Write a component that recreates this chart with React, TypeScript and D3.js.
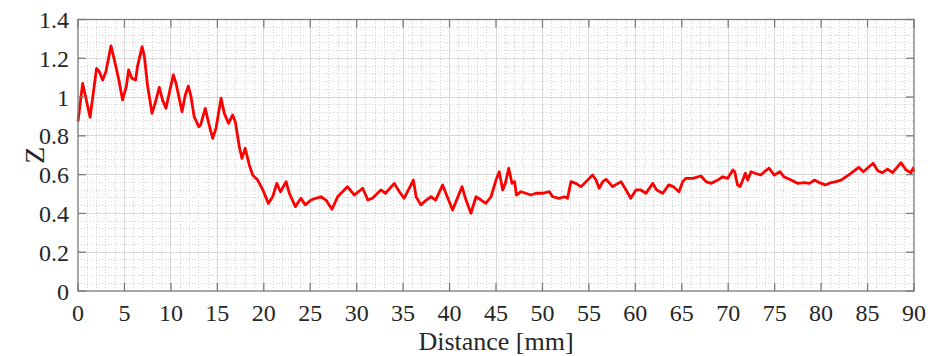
import React, { useEffect, useRef } from "react";
import * as d3 from "d3";

// Measured profile: distance along the track (mm) and surface height Z
const distanceMm = [
  0, 0.5, 1.3, 2.0, 2.3, 2.65, 3.0, 3.55, 4.0, 4.4, 4.8, 5.2, 5.45, 5.8, 6.2, 6.4, 6.9, 7.15, 7.5, 7.97,
  8.4, 8.75, 9.1, 9.47, 9.9, 10.26, 10.55, 11.2, 11.55, 11.88, 12.17, 12.5, 13.0, 13.2, 13.7, 14.07, 14.5,
  14.86, 15.4, 15.75, 16.2, 16.65, 16.93, 17.37, 17.65, 18.0, 18.44, 18.8, 19.35, 19.9, 20.5, 20.96, 21.4,
  21.8, 22.4, 22.75, 23.4, 24.0, 24.47, 25.08, 25.6, 26.16, 26.7, 27.34, 27.95, 29.0, 29.75, 30.2, 30.65,
  31.2, 31.7, 32.6, 33.1, 34.05, 34.6, 35.1, 35.67, 36.1, 36.4, 36.9, 37.5, 38.0, 38.5, 39.26, 39.6, 40.33,
  40.9, 41.34, 41.77, 42.3, 42.85, 43.4, 43.9, 44.46, 45.0, 45.35, 45.72, 46.0, 46.37, 46.72, 47.0, 47.2,
  47.7, 48.2, 48.77, 49.3, 50.0, 50.74, 51.1, 51.8, 52.35, 52.7, 53.07, 53.6, 54.15, 54.7, 55.4, 55.77,
  56.1, 56.5, 56.84, 57.56, 58.46, 59.0, 59.5, 60.07, 60.6, 61.15, 61.87, 62.3, 62.95, 63.6, 64.1, 64.7,
  65.1, 65.45, 66.17, 67.07, 67.6, 68.15, 68.87, 69.4, 69.94, 70.5, 70.7, 71.0, 71.27, 71.5, 71.84, 72.1,
  72.45, 72.9, 73.5, 73.9, 74.4, 74.96, 75.57, 76.0, 76.76, 77.5, 78.2, 78.75, 79.27, 79.8, 80.45, 81.06,
  81.6, 82.14, 82.68, 83.2, 84.05, 84.54, 85.6, 86.1, 86.6, 87.15, 87.7, 88.6, 89.14, 89.67, 89.9, 90,
];

const zValues = [
  0.873, 1.071, 0.896, 1.148, 1.131, 1.088, 1.131, 1.264, 1.174, 1.088, 0.985, 1.054, 1.14, 1.097, 1.088,
  1.157, 1.26, 1.208, 1.054, 0.916, 0.985, 1.05, 0.985, 0.942, 1.037, 1.114, 1.071, 0.925, 1.011, 1.057,
  1.002, 0.899, 0.847, 0.856, 0.942, 0.865, 0.787, 0.84, 0.994, 0.916, 0.865, 0.908, 0.873, 0.744, 0.684,
  0.736, 0.65, 0.598, 0.572, 0.521, 0.452, 0.486, 0.555, 0.512, 0.564, 0.504, 0.435, 0.478, 0.444, 0.469,
  0.478, 0.486, 0.469, 0.421, 0.486, 0.538, 0.495, 0.512, 0.53, 0.469, 0.478, 0.521, 0.504, 0.555, 0.512,
  0.478, 0.53, 0.572, 0.486, 0.444, 0.469, 0.486, 0.469, 0.547, 0.504, 0.418, 0.486, 0.538, 0.469, 0.401,
  0.486, 0.469, 0.452, 0.486, 0.572, 0.615, 0.521, 0.555, 0.633, 0.555, 0.564, 0.495, 0.512, 0.504, 0.495,
  0.504, 0.504, 0.512, 0.486, 0.478, 0.486, 0.478, 0.564, 0.555, 0.538, 0.564, 0.598, 0.572, 0.53, 0.564,
  0.576, 0.538, 0.564, 0.521, 0.478, 0.521, 0.521, 0.504, 0.555, 0.521, 0.504, 0.547, 0.538, 0.512, 0.564,
  0.581, 0.581, 0.593, 0.564, 0.555, 0.572, 0.589, 0.581, 0.624, 0.615, 0.547, 0.538, 0.564, 0.607, 0.572,
  0.615, 0.607, 0.598, 0.615, 0.633, 0.598, 0.615, 0.589, 0.572, 0.555, 0.559, 0.555, 0.572, 0.559, 0.547,
  0.559, 0.564, 0.572, 0.589, 0.607, 0.638, 0.615, 0.659, 0.62, 0.61, 0.628, 0.61, 0.662, 0.624, 0.61,
  0.633, 0.615,
];

const xTicks = [0, 5, 10, 15, 20, 25, 30, 35, 40, 45, 50, 55, 60, 65, 70, 75, 80, 85, 90];
const yTicks = [0, 0.2, 0.4, 0.6, 0.8, 1, 1.2, 1.4];

const W = 928;
const H = 356;
const M = { left: 78, right: 14, top: 19.5, bottom: 65 };
const FONT = "'Liberation Serif', 'Times New Roman', serif";

export default function App() {
  const ref = useRef<SVGSVGElement | null>(null);

  useEffect(() => {
    const svg = d3.select(ref.current);
    svg.selectAll("*").remove();

    const x0 = M.left;
    const x1 = W - M.right;
    const y0 = H - M.bottom;
    const y1 = M.top;

    const x = d3.scaleLinear().domain([0, 90]).range([x0, x1]);
    const y = d3.scaleLinear().domain([0, 1.4]).range([y0, y1]);

    svg.append("rect").attr("x", x0).attr("y", y1).attr("width", x1 - x0).attr("height", y0 - y1).attr("fill", "#fff");

    const grid = svg.append("g").attr("shape-rendering", "crispEdges");
    // minor grid (dotted)
    d3.range(1, 90).filter((v) => v % 5 !== 0).forEach((v) => {
      grid.append("line").attr("x1", x(v)).attr("x2", x(v)).attr("y1", y1).attr("y2", y0)
        .attr("stroke", "#d2d2d2").attr("stroke-width", 1).attr("stroke-dasharray", "1 2");
    });
    d3.range(1, 35).filter((i) => i % 5 !== 0).forEach((i) => {
      const v = i * 0.04;
      grid.append("line").attr("x1", x0).attr("x2", x1).attr("y1", y(v)).attr("y2", y(v))
        .attr("stroke", "#d2d2d2").attr("stroke-width", 1).attr("stroke-dasharray", "1 2");
    });
    // major grid
    xTicks.slice(1, -1).forEach((v) => {
      grid.append("line").attr("x1", x(v)).attr("x2", x(v)).attr("y1", y1).attr("y2", y0)
        .attr("stroke", "#d9d9d9").attr("stroke-width", 1);
    });
    yTicks.slice(1, -1).forEach((v) => {
      grid.append("line").attr("x1", x0).attr("x2", x1).attr("y1", y(v)).attr("y2", y(v))
        .attr("stroke", "#d9d9d9").attr("stroke-width", 1);
    });

    // profile line
    const pts = distanceMm.map((d, i) => [d, zValues[i]] as [number, number]);
    const line = d3.line<[number, number]>().x((d) => x(d[0])).y((d) => y(d[1]));
    svg.append("path").datum(pts).attr("d", line).attr("fill", "none")
      .attr("stroke", "#ff0000").attr("stroke-width", 2.8).attr("stroke-linejoin", "round");

    // box and inward ticks
    const axis = svg.append("g").attr("stroke", "#7a7a7a").attr("stroke-width", 1.3);
    axis.append("rect").attr("x", x0).attr("y", y1).attr("width", x1 - x0).attr("height", y0 - y1).attr("fill", "none");
    const tl = 8;
    xTicks.forEach((v) => {
      axis.append("line").attr("x1", x(v)).attr("x2", x(v)).attr("y1", y0).attr("y2", y0 - tl);
      axis.append("line").attr("x1", x(v)).attr("x2", x(v)).attr("y1", y1).attr("y2", y1 + tl);
    });
    yTicks.forEach((v) => {
      axis.append("line").attr("x1", x0).attr("x2", x0 + tl).attr("y1", y(v)).attr("y2", y(v));
      axis.append("line").attr("x1", x1).attr("x2", x1 - tl).attr("y1", y(v)).attr("y2", y(v));
    });

    const labels = svg.append("g").attr("font-family", FONT).attr("fill", "#262626");
    xTicks.forEach((v) => {
      labels.append("text").attr("font-size", 24).attr("x", x(v)).attr("y", y0 + 30)
        .attr("text-anchor", "middle").text(String(v));
    });
    yTicks.forEach((v) => {
      labels.append("text").attr("font-size", 24).attr("x", x0 - 9).attr("y", y(v) + 8.5)
        .attr("text-anchor", "end").text(String(v));
    });
    labels.append("text").attr("font-size", 26).attr("x", (x0 + x1) / 2).attr("y", 350)
      .attr("text-anchor", "middle").text("Distance [mm]");
    labels.append("text").attr("font-size", 28)
      .attr("transform", `translate(${44},${(y0 + y1) / 2}) rotate(-90)`)
      .attr("text-anchor", "middle").text("Z");
  }, []);

  return (
    <svg ref={ref} width={W} height={H} style={{ position: "absolute", left: 0, top: 0, background: "#fff" }} />
  );
}
